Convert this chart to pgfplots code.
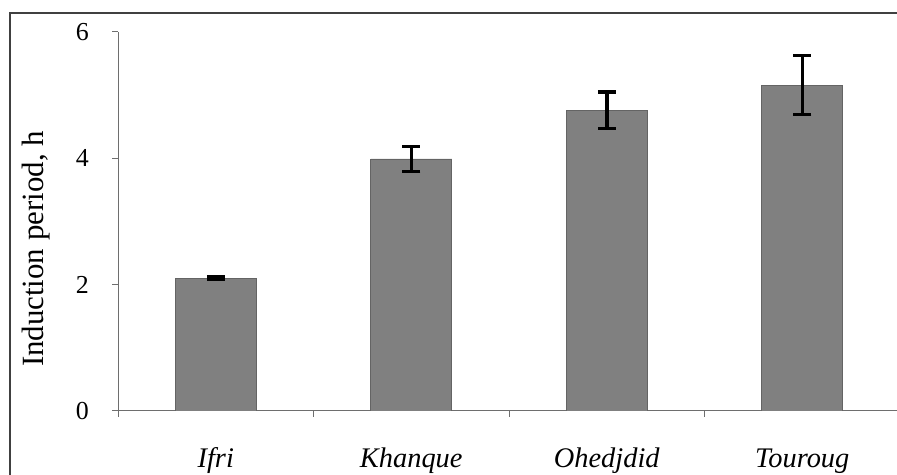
\documentclass[border=0pt]{standalone}
\usepackage{pgfplots}
\pgfplotsset{compat=1.18}
\usepackage{fontspec}
\setmainfont{Liberation Serif}
\definecolor{barfill}{RGB}{128,128,128}
\definecolor{barline}{RGB}{100,100,100}
\definecolor{axisgray}{RGB}{110,110,110}
\definecolor{framegray}{RGB}{64,64,64}
\begin{document}
\begin{tikzpicture}[x=1bp,y=1bp]
\useasboundingbox (0,0) rectangle (897,475);
\clip (0,0) rectangle (897,475);
\draw[framegray, line width=1.5bp] (10,-20) rectangle (920,462);
\begin{axis}[
  at={(118bp,64bp)}, anchor=south west,
  scale only axis, width=782bp, height=379bp,
  xmin=-0.5, xmax=3.5, ymin=0, ymax=6,
  ybar, bar width=81bp,
  axis lines*=left,
  axis line style={axisgray, line width=1bp},
  ytick={0,2,4,6},
  xtick={0,1,2,3}, xticklabels={Ifri,Khanque,Ohedjdid,Touroug},
  major x tick style={draw=none},
  minor xtick={-0.5,0.5,1.5,2.5},
  tick align=outside,
  major tick length=6bp, minor tick length=6bp,
  tick style={axisgray, line width=1bp},
  xticklabel style={font=\fontsize{28.5}{32}\selectfont\itshape, anchor=base, inner sep=0pt, yshift=-51bp},
  yticklabel style={font=\fontsize{26}{30}\selectfont, inner sep=0pt, xshift=-23bp},
  /pgf/number format/assume math mode=true,
  ylabel={Induction period, h},
  ylabel style={font=\fontsize{31}{34}\selectfont, at={(axis description cs:-0.1049,0.4274)}, anchor=center},
]
\addplot[fill=barfill, draw=barline, line width=0.8bp,
  error bars/.cd, y dir=both, y explicit,
  error bar style={black, line width=3.5bp},
  error mark options={black, rotate=90, mark size=9bp, line width=3.5bp}]
coordinates {(0,2.10) +- (0,0.02) (1,3.99) +- (0,0.20) (2,4.76) +- (0,0.29) (3,5.16) +- (0,0.47)};
\end{axis}
\end{tikzpicture}
\end{document}
